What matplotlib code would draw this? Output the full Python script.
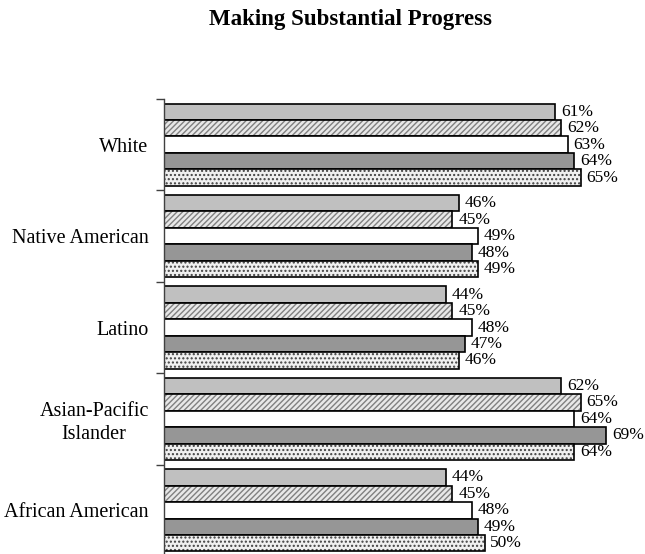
import matplotlib
matplotlib.use("Agg")
import matplotlib.pyplot as plt
import numpy as np

categories = ["White", "Native American", "Latino", "Asian-Pacific\nIslander", "African American"]
series1 = [61, 46, 44, 62, 44]
series2 = [62, 45, 45, 65, 45]
series3 = [63, 49, 48, 64, 48]
series4 = [64, 48, 47, 69, 49]
series5 = [65, 49, 46, 64, 50]
title = "Making Substantial Progress"

series = [series1, series2, series3, series4, series5]
styles = [
    dict(face="#c0c0c0", hatch=None, hcol=None),
    dict(face="#e8e8e8", hatch="//////", hcol="#808080"),
    dict(face="white", hatch=None, hcol=None),
    dict(face="#969696", hatch=None, hcol=None),
    dict(face="#f0f0f0", hatch="....", hcol="#404040"),
]

plt.rcParams["font.family"] = ["Liberation Serif", "DejaVu Serif"]
plt.rcParams["hatch.linewidth"] = 1.0
W, H = 645, 554
fig = plt.figure(figsize=(W / 100, H / 100), dpi=100)
left_px, right_px, top_px, bot_px = 164, 645, 99, 556
ax = fig.add_axes([left_px / W, 1 - bot_px / H, (right_px - left_px) / W, (bot_px - top_px) / H])

n = len(categories)
bar_h = 0.18
for i, (vals, st) in enumerate(zip(series, styles)):
    ys = np.arange(n) + (i - 2) * bar_h
    if st["hatch"]:
        ax.barh(ys, vals, height=bar_h, color=st["face"], hatch=st["hatch"],
                edgecolor=st["hcol"], linewidth=0)
        ax.barh(ys, vals, height=bar_h, fill=False, edgecolor="black", linewidth=1.2)
    else:
        ax.barh(ys, vals, height=bar_h, color=st["face"], edgecolor="black", linewidth=1.2)
    for y, v in zip(ys, vals):
        ax.text(v + 0.9, y, f"{v}%", va="center", ha="left", fontsize=12.5)

ax.set_xlim(0, (right_px - left_px) / 6.41)
ax.set_ylim(n - 0.5, -0.5)
ax.set_yticks(np.arange(n))
ax.set_yticklabels(categories, fontsize=14.5, linespacing=1.25)
ax.tick_params(axis="y", which="major", length=0, pad=11)
ax.set_yticks(np.arange(n + 1) - 0.5, minor=True)
ax.tick_params(axis="y", which="minor", length=6, width=1, color="#404040", direction="out")
ax.set_xticks([])
for s in ["top", "right", "bottom"]:
    ax.spines[s].set_visible(False)
ax.spines["left"].set_color("#404040")
ax.spines["left"].set_linewidth(1)
for lbl in ax.get_yticklabels():
    lbl.set_multialignment("center")

fig.text(350 / W, 1 - 19 / H, title, ha="center", va="center", fontsize=16.5, fontweight="bold")
fig.savefig("out.png", dpi=100)
